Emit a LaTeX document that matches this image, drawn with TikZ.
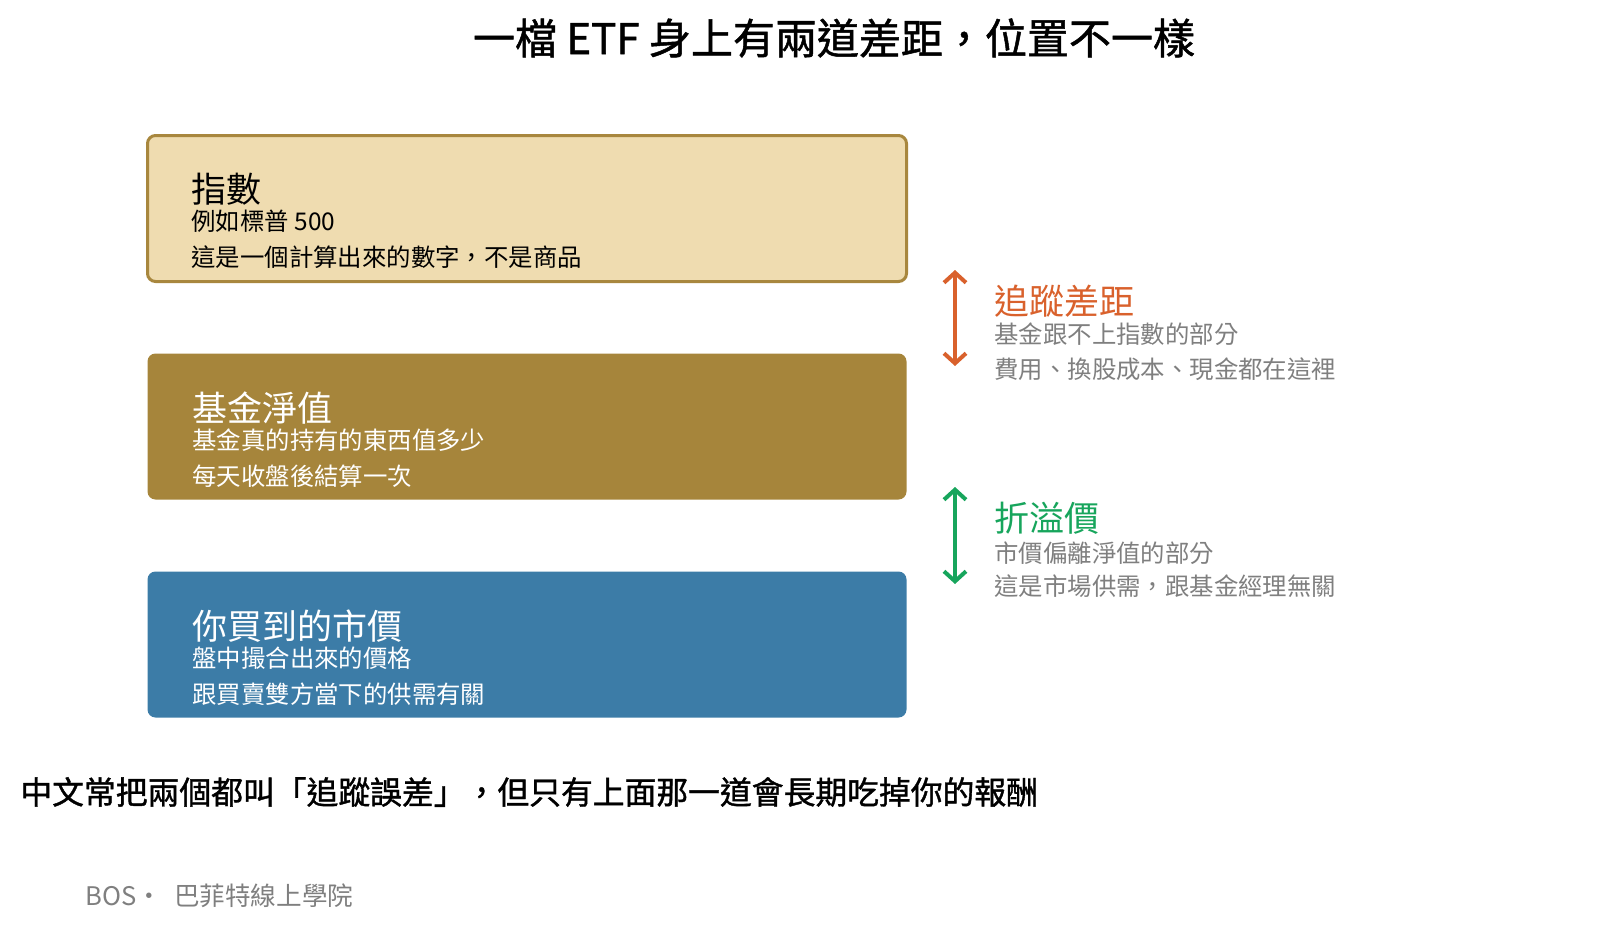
\documentclass[tikz,border=0pt]{standalone}
\usepackage{fontspec}
\setmainfont{Noto Sans CJK TC}
\newfontfamily\heavyfont[FakeBold=1.2]{Noto Sans CJK TC}
\usetikzlibrary{arrows.meta, positioning}

\definecolor{idxfill}{HTML}{EFDCB0}
\definecolor{idxline}{HTML}{A8873E}
\definecolor{navfill}{HTML}{A6853B}
\definecolor{mktfill}{HTML}{3C7CA7}
\definecolor{trkcol}{HTML}{D9612C}
\definecolor{premcol}{HTML}{17A55C}
\definecolor{notecol}{HTML}{7F7F7F}

\begin{document}
\begin{tikzpicture}[x=0.5pt, y=-0.5pt,
    box/.style={rectangle, rounded corners=4pt, minimum width=379.5pt, minimum height=73pt, inner sep=0pt},
    head/.style={anchor=west, inner sep=0pt, font=\fontsize{17.5}{20}\selectfont},
    sub/.style={anchor=west, inner sep=0pt, font=\fontsize{12.2}{14}\selectfont},
    gap/.style={line width=2pt, {Straight Barb[length=5pt,width=11pt]}-{Straight Barb[length=5pt,width=11pt]}}]
    \useasboundingbox (0,0) rectangle (1602,926);

    \node [font=\fontsize{21}{25}\heavyfont] (title) at (834,38) {一檔 ETF 身上有兩道差距，位置不一樣};

    % the three layers
    \node [box, draw=idxline, line width=1.5pt, fill=idxfill] (idx) at (527,208.5) {};
    \node [box, fill=navfill] (nav) at (527,426.5) {};
    \node [box, fill=mktfill] (mkt) at (527,644.5) {};

    \node [head] (idxhead) at ([xshift=22.5pt,yshift=-27.5pt]idx.north west) {指數};
    \node [sub] (idxa) at ([xshift=22.5pt,yshift=-43.5pt]idx.north west) {例如標普 500};
    \node [sub] (idxb) at ([xshift=22.5pt,yshift=-61.5pt]idx.north west) {這是一個計算出來的數字，不是商品};

    \node [head, text=white] (navhead) at ([xshift=22.5pt,yshift=-27.5pt]nav.north west) {基金淨值};
    \node [sub, text=white] (nava) at ([xshift=22.5pt,yshift=-43.5pt]nav.north west) {基金真的持有的東西值多少};
    \node [sub, text=white] (navb) at ([xshift=22.5pt,yshift=-61.5pt]nav.north west) {每天收盤後結算一次};

    \node [head, text=white] (mkthead) at ([xshift=22.5pt,yshift=-27.5pt]mkt.north west) {你買到的市價};
    \node [sub, text=white] (mkta) at ([xshift=22.5pt,yshift=-43.5pt]mkt.north west) {盤中撮合出來的價格};
    \node [sub, text=white] (mktb) at ([xshift=22.5pt,yshift=-61.5pt]mkt.north west) {跟買賣雙方當下的供需有關};

    % the two gaps
    \coordinate (trktop) at (955,270);
    \coordinate (trkbot) at (955,366);
    \coordinate (premtop) at (955,487);
    \coordinate (prembot) at (955,584);
    \draw [gap, trkcol] (trktop) -- (trkbot);
    \draw [gap, premcol] (premtop) -- (prembot);

    \node [head, text=trkcol] (trkhead) at (994,301) {追蹤差距};
    \node [sub, text=notecol] (trka) at (994,334) {基金跟不上指數的部分};
    \node [sub, text=notecol] (trkb) at (994,369) {費用、換股成本、現金都在這裡};

    \node [head, text=premcol] (premhead) at (994,518) {折溢價};
    \node [sub, text=notecol] (prema) at (994,553) {市價偏離淨值的部分};
    \node [sub, text=notecol] (premb) at (994,586) {這是市場供需，跟基金經理無關};

    \node [anchor=west, inner sep=0pt, font=\fontsize{15.9}{19}\heavyfont] (remark) at (20,792) {中文常把兩個都叫「追蹤誤差」，但只有上面那一道會長期吃掉你的報酬};
    \node [anchor=west, inner sep=0pt, text=notecol, font=\fontsize{12.8}{15}\selectfont] (brand) at (85,896) {BOS·\hspace{6pt}巴菲特線上學院};
\end{tikzpicture}
\end{document}
